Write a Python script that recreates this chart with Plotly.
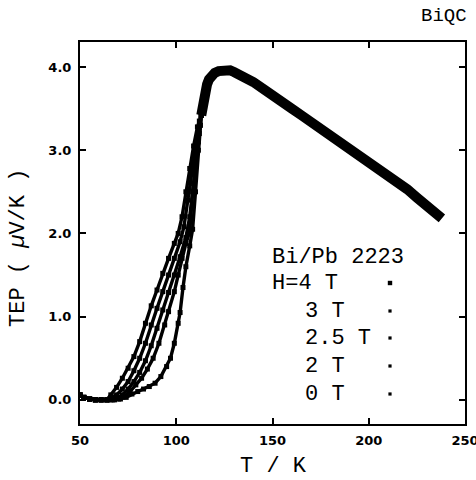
import plotly.graph_objects as go

# shared baseline (all fields) and shared high-temperature branch (all fields coincide)
base_T = [50, 52, 55, 58, 61, 64]
base_S = [0.06, 0.03, 0.01, 0.0, 0.0, 0.0]

common_T = [113, 114, 115, 116, 117, 118, 120, 122, 124, 126, 128, 130, 133, 136, 140, 145,
            150, 155, 160, 165, 170, 175, 180, 185, 190, 195, 200, 205, 210, 215, 220, 225,
            230, 235, 238]
common_S = [3.42, 3.58, 3.70, 3.79, 3.85, 3.89, 3.93, 3.95, 3.96, 3.96, 3.96, 3.94, 3.91, 3.87,
            3.82, 3.74, 3.65, 3.58, 3.50, 3.42, 3.34, 3.27, 3.19, 3.11, 3.03, 2.95, 2.87, 2.79,
            2.70, 2.62, 2.53, 2.43, 2.33, 2.24, 2.18]

# transition region for each field
T_4T = [66, 69, 72, 75, 78, 81, 84, 87, 90, 93, 96, 99, 101, 103, 105, 107, 109, 111]
S_4T = [0.06, 0.15, 0.26, 0.38, 0.52, 0.70, 0.92, 1.13, 1.32, 1.52, 1.70, 1.88, 2.00, 2.20, 2.50, 2.78, 3.05, 3.28]

T_3T = [66, 69, 72, 75, 78, 81, 84, 87, 90, 93, 96, 99, 102, 104, 106, 108, 110, 112]
S_3T = [0.02, 0.06, 0.13, 0.22, 0.35, 0.50, 0.68, 0.90, 1.10, 1.30, 1.50, 1.70, 1.90, 2.08, 2.40, 2.75, 3.08, 3.35]

T_25T = [66, 69, 72, 75, 78, 81, 84, 87, 90, 93, 96, 99, 102, 105, 107, 109, 111, 112]
S_25T = [0.0, 0.02, 0.06, 0.13, 0.22, 0.33, 0.47, 0.65, 0.86, 1.08, 1.29, 1.50, 1.72, 1.95, 2.20, 2.60, 3.00, 3.20]

T_2T = [67, 70, 73, 76, 79, 82, 85, 88, 91, 94, 96, 99, 101, 103, 105, 107, 108.5, 110, 111.5, 112.5]
S_2T = [0.0, 0.01, 0.04, 0.10, 0.18, 0.26, 0.37, 0.50, 0.68, 0.90, 1.06, 1.30, 1.50, 1.70, 1.88, 2.02, 2.50, 2.80, 3.10, 3.30]

T_0T = [68, 71, 74, 77, 80, 83, 86, 89, 92, 95, 97, 99, 101, 102, 103.5, 105, 107, 108.5, 110, 111.5, 112.5]
S_0T = [0.0, 0.01, 0.03, 0.07, 0.10, 0.13, 0.16, 0.20, 0.28, 0.40, 0.50, 0.68, 0.92, 1.05, 1.35, 1.60, 1.85, 2.05, 2.50, 3.00, 3.30]

series = [("H=4 T", T_4T, S_4T), ("3 T", T_3T, S_3T), ("2.5 T", T_25T, S_25T),
          ("2 T", T_2T, S_2T), ("0 T", T_0T, S_0T)]

x_ticks = [50, 100, 150, 200, 250]
y_ticks = [0, 1, 2, 3, 4]
y_tick_labels = ["0.0", "1.0", "2.0", "3.0", "4.0"]

fig = go.Figure()
for name, t, s in series:
    fig.add_trace(go.Scatter(
        x=base_T + t + [common_T[0]], y=base_S + s + [common_S[0]],
        mode="lines+markers", name=name,
        line=dict(color="black", width=3.4),
        marker=dict(color="black", size=5, symbol="square"),
        showlegend=False))

fig.add_trace(go.Scatter(
    x=common_T, y=common_S, mode="lines", line=dict(color="black", width=10),
    showlegend=False))

W, H = 476, 480
L, R, T, B = 80, 11, 42, 56
pw, ph = W - L - R, H - T - B

def px(x):
    return (x - L) / pw

def py(y):
    return (H - B - y) / ph

mono = "Liberation Mono"
ann = []
ann.append(dict(text="Bi/Pb 2223", x=px(270), y=py(257), xanchor="left", yanchor="middle"))
legend_rows = [("H=4 T", 270, 283), ("3 T", 303, 311), ("2.5 T", 303, 338),
               ("2 T", 303, 366), ("0 T", 303, 394)]
for label, lx, ly in legend_rows:
    ann.append(dict(text=label, x=px(lx), y=py(ly), xanchor="left", yanchor="middle"))
ann.append(dict(text="T / K", x=px(273), y=py(466), xanchor="center", yanchor="middle",
                font=dict(family=mono, size=22, color="black")))
ann.append(dict(text="TEP ( <i>µ</i>V/K )", x=px(19), y=py(248), xanchor="center",
                yanchor="middle", textangle=-90))
ann.append(dict(text="BiQC", x=px(444), y=py(16), xanchor="center", yanchor="middle",
                font=dict(family=mono, size=19, color="black")))
for a in ann:
    a.setdefault("font", dict(family=mono, size=22, color="black"))
    a.update(xref="paper", yref="paper", showarrow=False)

shapes = []
for i, (label, lx, ly) in enumerate(legend_rows):
    hs = 2.2 if i == 0 else 1.6
    shapes.append(dict(type="rect", xref="paper", yref="paper",
                       x0=px(390 - hs), x1=px(390 + hs), y0=py(ly + hs), y1=py(ly - hs),
                       fillcolor="black", line=dict(width=0)))

axis_common = dict(showgrid=False, zeroline=False, showline=True, linecolor="black",
                   linewidth=2, mirror="ticks", ticks="inside", ticklen=6, tickwidth=1.5,
                   tickcolor="black", automargin=False,
                   tickfont=dict(family="DejaVu Sans", size=13, color="black", weight="bold"))

fig.update_layout(
    width=W, height=H, margin=dict(l=L, r=R, t=T, b=B, autoexpand=False),
    paper_bgcolor="white", plot_bgcolor="white",
    xaxis=dict(range=[50, 250], tickvals=x_ticks, ticktext=[str(v) for v in x_ticks],
               ticklabelstandoff=3, ticklabeloverflow="allow", **axis_common),
    yaxis=dict(range=[-0.29, 4.3], tickvals=y_ticks, ticktext=y_tick_labels,
               ticklabelstandoff=4, **axis_common),
    annotations=ann, shapes=shapes,
)

fig.write_html("out.html", config={"displayModeBar": False},
               post_script="document.body.style.margin='0';document.body.style.padding='0';")
